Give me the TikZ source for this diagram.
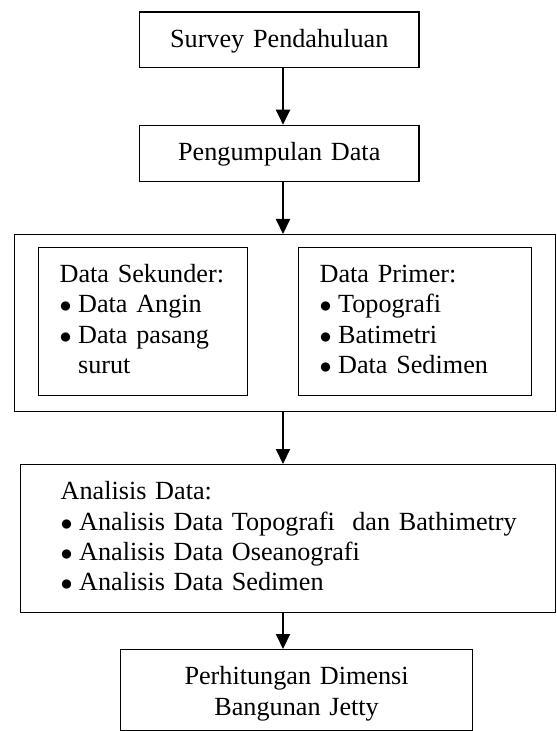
\documentclass[tikz,border=0pt]{standalone}
\usepackage{fontspec}
\setmainfont{Liberation Serif}
\usepackage{tikz}
\usetikzlibrary{positioning}
\usetikzlibrary{arrows.meta}
\tikzstyle{arrow} = [line width=1pt,-{Triangle[length=7.5pt,width=7pt]}]
\tikzstyle{box} = [draw,line width=0.6pt,inner xsep=0pt,inner ysep=0pt,text height=17.5pt]
\newcommand{\bul}{\makebox[9.25pt][l]{$\bullet$}}

\begin{document}
\begin{tikzpicture}[x=0.5pt,y=-0.5pt,font=\fontsize{13.1pt}{15.2pt}\selectfont]
	\useasboundingbox (0,0) rectangle (556,731);
	%Nodes
	\node [box,anchor=north,text width=139.75pt,align=center,text depth=10.25pt] (survey) at (279.25,11.5) {Survey Pendahuluan};
	\node [box,text width=139.75pt,align=center,text depth=10.75pt,below=28.25pt of survey] (pengumpulan) {Pengumpulan Data};
	\node [draw,line width=0.6pt,minimum width=270.75pt,minimum height=88.5pt,anchor=north west] (data) at (13.5,234) {};
	\node [box,anchor=north west,text width=83pt,inner xsep=10.75pt,align=left,text depth=56.25pt] (sekunder) at (37.5,247) {\mbox{Data Sekunder:}\\ \bul Data Angin\\ \bul Data pasang\\ \hspace*{9.25pt}surut};
	\node [box,anchor=north west,text width=95.35pt,inner xsep=10.75pt,align=left,text depth=56.25pt] (primer) at (297.5,247) {Data Primer:\\ \bul Topografi\\ \bul Batimetri\\ \bul Data Sedimen};
	\node [box,anchor=north west,text width=227.5pt,inner xsep=20pt,align=left,text depth=56.5pt] (analisis) at (20,464) {Analisis Data:\\ \mbox{\bul Analisis Data Topografi\ \ dan Bathimetry}\\ \bul Analisis Data Oseanografi\\ \bul Analisis Data Sedimen};
	\node [box,anchor=north west,text width=176pt,align=center,text depth=23pt] (jetty) at (120,649) {Perhitungan Dimensi\\Bangunan Jetty};
	
	%Lines
	\coordinate (ax) at (283,0);
	\draw[arrow] (survey.south -| ax) -- (pengumpulan.north -| ax);
	\draw[arrow] (pengumpulan.south -| ax) -- (data.north -| ax);
	\draw[arrow] (data.south -| ax) -- (analisis.north -| ax);
	\draw[arrow] (analisis.south -| ax) -- (jetty.north -| ax);
\end{tikzpicture}
\end{document}
